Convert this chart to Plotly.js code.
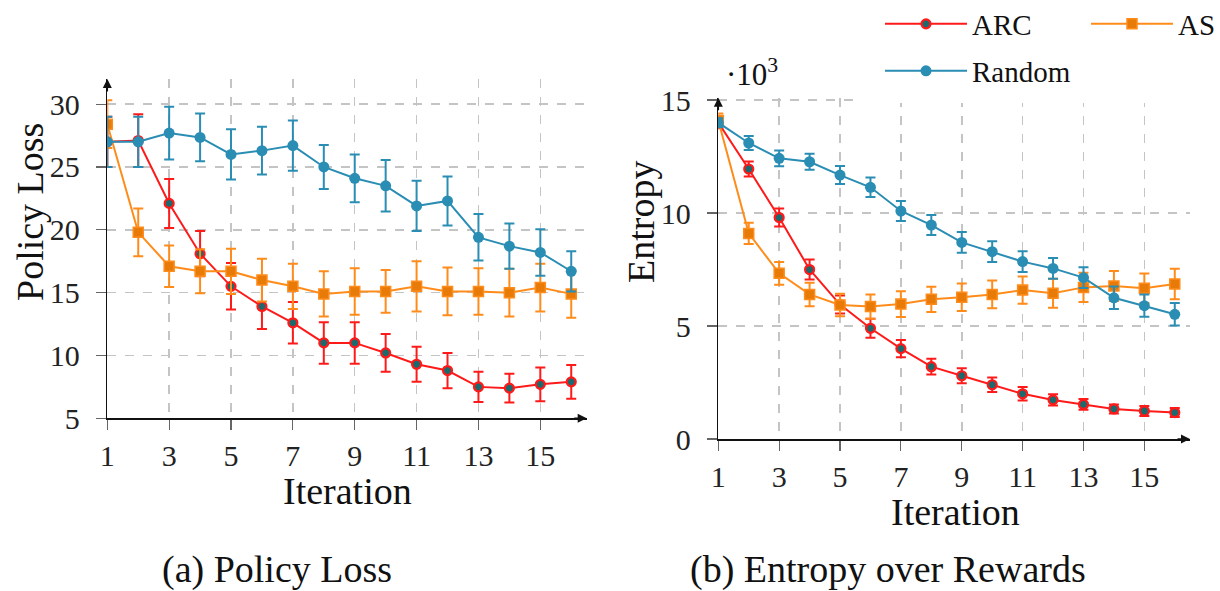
<!DOCTYPE html>
<html>
<head>
<meta charset="utf-8">
<script src="https://cdn.plot.ly/plotly-3.0.1.min.js"></script>
<style>html,body{margin:0;padding:0;background:#fff;}#chart{width:1220px;height:591px;}</style>
</head>
<body>
<div id="chart"></div>
<script>
// ---- data ----
var iterations = [1,2,3,4,5,6,7,8,9,10,11,12,13,14,15,16];

var lossARC       = [27.0,27.1,22.1,18.1,15.5,13.9,12.6,11.0,11.0,10.2,9.3,8.8,7.5,7.4,7.7,7.9];
var lossARCErr    = [2.0,2.1,1.95,1.8,1.85,1.8,1.65,1.65,1.65,1.5,1.4,1.4,1.2,1.15,1.35,1.35];
var lossAS        = [28.4,19.8,17.1,16.7,16.7,16.0,15.5,14.9,15.1,15.1,15.5,15.1,15.1,15.0,15.4,14.9];
var lossASErr     = [1.9,1.9,1.65,1.75,1.8,1.7,1.8,1.8,1.85,1.7,2.0,1.9,1.85,1.9,1.9,1.9];
var lossRandom    = [27.0,27.0,27.7,27.35,26.0,26.3,26.7,25.0,24.1,23.5,21.9,22.3,19.4,18.7,18.2,16.7];
var lossRandomErr = [2.0,2.0,2.1,1.9,2.0,1.9,2.0,1.75,1.9,2.05,2.0,1.95,1.85,1.8,1.85,1.6];

var entARC        = [14.0,11.95,9.8,7.5,5.95,4.9,4.0,3.2,2.8,2.4,2.0,1.73,1.53,1.33,1.24,1.17];
var entARCErr     = [0.25,0.33,0.4,0.44,0.4,0.42,0.38,0.35,0.33,0.32,0.3,0.25,0.24,0.2,0.22,0.2];
var entAS         = [14.1,9.1,7.33,6.4,5.93,5.86,5.97,6.18,6.27,6.4,6.59,6.45,6.71,6.77,6.67,6.86];
var entASErr      = [0.3,0.47,0.5,0.52,0.5,0.54,0.57,0.56,0.61,0.61,0.6,0.64,0.65,0.66,0.65,0.68];
var entRandom     = [14.0,13.1,12.42,12.27,11.68,11.14,10.09,9.47,8.7,8.29,7.85,7.55,7.14,6.25,5.9,5.52];
var entRandomErr  = [0.2,0.31,0.35,0.35,0.4,0.43,0.44,0.44,0.46,0.46,0.46,0.46,0.46,0.5,0.49,0.5];

var xTicks = [1,3,5,7,9,11,13,15];
var lossTicks = [5,10,15,20,25,30];
var entTicks = [0,5,10,15];

// ---- styles ----
var FONT = 'Liberation Serif, Times New Roman, serif';
var RED = '#ff1a1a', ORANGE = '#ff8c1a', BLUE = '#2a8db3';
var styles = {
  ARC:    {line:{color:RED,width:2}, marker:{symbol:'circle',size:9,color:'#1b6a6e',line:{color:RED,width:2.2}}},
  AS:     {line:{color:ORANGE,width:2}, marker:{symbol:'square',size:10,color:'#e87a08',line:{color:ORANGE,width:1.5}}},
  Random: {line:{color:BLUE,width:2}, marker:{symbol:'circle',size:11,color:BLUE,line:{width:0}}}
};
var legendOf = {ARC:'legend', AS:'legend3', Random:'legend2'};

function mk(name, y, err, xa, ya, show) {
  var s = styles[name];
  return {
    type:'scatter', mode:'lines+markers', name:name,
    x: iterations, y: y,
    error_y:{type:'data', array: err, visible:true, color:s.line.color, thickness:2, width:5},
    line: s.line, marker: s.marker,
    xaxis: xa, yaxis: ya, showlegend: show, legend: legendOf[name]
  };
}

var data = [
  mk('ARC', lossARC, lossARCErr, 'x', 'y', true),
  mk('AS', lossAS, lossASErr, 'x', 'y', true),
  mk('Random', lossRandom, lossRandomErr, 'x', 'y', true),
  mk('ARC', entARC, entARCErr, 'x2', 'y2', false),
  mk('AS', entAS, entASErr, 'x2', 'y2', false),
  mk('Random', entRandom, entRandomErr, 'x2', 'y2', false)
];

var W = 1220, H = 591;
function px(v){return v/W;}
function py(v){return 1 - v/H;}

var baseAxis = {showgrid:true, gridcolor:'#c4c4c4', gridwidth:1.5, griddash:'dash', zeroline:false,
  showline:true, linecolor:'#111', linewidth:1.6, ticks:'outside', ticklen:10, tickwidth:1.2, tickcolor:'#666',
  tickfont:{family:FONT, size:30, color:'#222'}};

function axisX(domain, anchor) {
  return Object.assign({}, baseAxis, {domain:domain, anchor:anchor, range:[1,16.5], tickvals:xTicks, ticktext:xTicks.map(String), ticklabelstandoff:0});
}
function axisY(domain, anchor, range, ticks) {
  return Object.assign({}, baseAxis, {domain:domain, anchor:anchor, range:range, tickvals:ticks, ticktext:ticks.map(String), ticklabelstandoff:10});
}

var titleFont = {family:FONT, size:38, color:'#111'};
var legendFont = {family:FONT, size:29, color:'#111'};
function leg(xp, yp) {
  return {orientation:'h', x:px(xp), y:py(yp), xanchor:'left', yanchor:'middle', font:legendFont,
    itemwidth:82, bgcolor:'rgba(0,0,0,0)', borderwidth:0};
}

var layout = {
  width:W, height:H, autosize:false,
  margin:{l:0,r:0,t:0,b:0,pad:0,autoexpand:false},
  paper_bgcolor:'#fff', plot_bgcolor:'#fff',
  font:{family:FONT, color:'#111'},
  xaxis: axisX([px(107.3), px(586.7)], 'y'),
  yaxis: axisY([py(418.3), py(79)], 'x', [5,32], lossTicks),
  xaxis2: axisX([px(718.3), px(1190)], 'y2'),
  yaxis2: axisY([py(439), py(97.8)], 'x2', [0,15.1], entTicks),
  showlegend:true,
  legend: leg(880, 24),
  legend3: leg(1086, 24),
  legend2: leg(880, 71),
  shapes:[
    {type:'rect', xref:'paper', yref:'paper', x0:px(855), x1:1, y0:py(103), y1:1, fillcolor:'#fff', line:{width:0}, layer:'above'}
  ],
  annotations:[
    {xref:'paper', yref:'paper', x:px(347), y:py(491), text:'Iteration', showarrow:false, font:titleFont, xanchor:'center', yanchor:'middle'},
    {xref:'paper', yref:'paper', x:px(955), y:py(512), text:'Iteration', showarrow:false, font:titleFont, xanchor:'center', yanchor:'middle'},
    {xref:'paper', yref:'paper', x:px(30), y:py(212), text:'Policy Loss', textangle:-90, showarrow:false, font:titleFont, xanchor:'center', yanchor:'middle'},
    {xref:'paper', yref:'paper', x:px(641), y:py(222), text:'Entropy', textangle:-90, showarrow:false, font:titleFont, xanchor:'center', yanchor:'middle'},
    {xref:'paper', yref:'paper', x:px(277), y:py(569), text:'(a) Policy Loss', showarrow:false, font:titleFont, xanchor:'center', yanchor:'middle'},
    {xref:'paper', yref:'paper', x:px(888), y:py(569), text:'(b) Entropy over Rewards', showarrow:false, font:titleFont, xanchor:'center', yanchor:'middle'},
    {xref:'paper', yref:'paper', x:px(752), y:py(72), text:'·10<sup>3</sup>', showarrow:false, font:{family:FONT,size:31,color:'#111'}, xanchor:'center', yanchor:'middle'},
    // axis arrows
    {xref:'x', yref:'y', x:16.5, y:5, ax:-14, ay:0, text:'', showarrow:true, arrowhead:2, arrowsize:1.2, arrowwidth:1.5, arrowcolor:'#111'},
    {xref:'x', yref:'y', x:1, y:32, ax:0, ay:14, text:'', showarrow:true, arrowhead:2, arrowsize:1.2, arrowwidth:1.5, arrowcolor:'#111'},
    {xref:'x2', yref:'y2', x:16.5, y:0, ax:-14, ay:0, text:'', showarrow:true, arrowhead:2, arrowsize:1.2, arrowwidth:1.5, arrowcolor:'#111'},
    {xref:'x2', yref:'y2', x:1, y:15.1, ax:0, ay:14, text:'', showarrow:true, arrowhead:2, arrowsize:1.2, arrowwidth:1.5, arrowcolor:'#111'}
  ]
};

Plotly.newPlot('chart', data, layout, {displayModeBar:false, staticPlot:true});
</script>
</body>
</html>
